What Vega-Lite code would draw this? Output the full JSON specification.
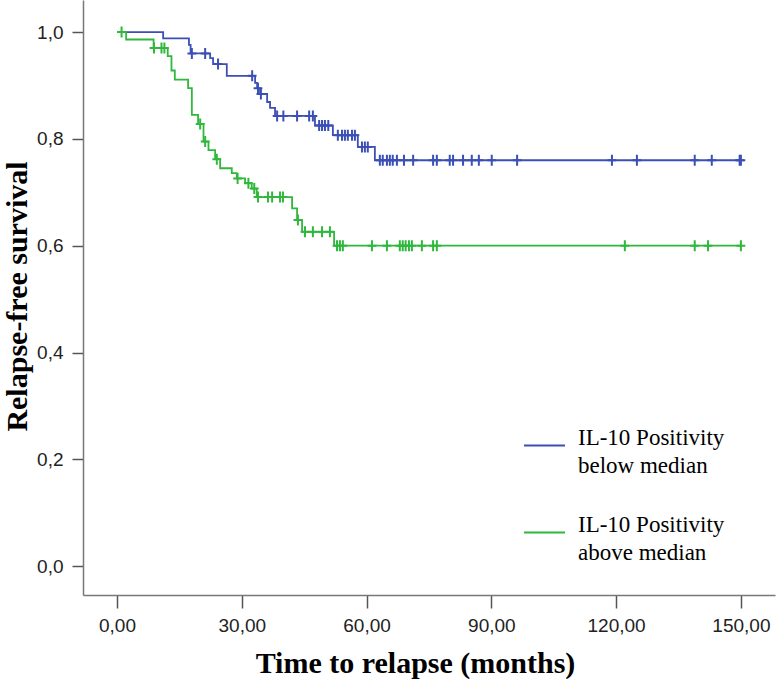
{
  "$schema": "https://vega.github.io/schema/vega-lite/v6.json",
  "width": 692,
  "height": 595,
  "autosize": {"type": "none"},
  "padding": {"left": 83, "top": 0, "right": 3, "bottom": 84},
  "background": "white",
  "config": {"view": {"stroke": null}},
  "data": {
    "values": [
      {"g": "below", "t": 0, "s": 1.0, "c": 0},
      {"g": "below", "t": 11.1, "s": 0.988, "c": 0},
      {"g": "below", "t": 17.3, "s": 0.976, "c": 0},
      {"g": "below", "t": 17.7, "s": 0.96, "c": 0},
      {"g": "below", "t": 18.0, "s": 0.96, "c": 1},
      {"g": "below", "t": 21.2, "s": 0.96, "c": 1},
      {"g": "below", "t": 22.4, "s": 0.951, "c": 0},
      {"g": "below", "t": 23.1, "s": 0.94, "c": 0},
      {"g": "below", "t": 24.3, "s": 0.94, "c": 1},
      {"g": "below", "t": 26.4, "s": 0.918, "c": 0},
      {"g": "below", "t": 32.5, "s": 0.918, "c": 1},
      {"g": "below", "t": 33.2, "s": 0.905, "c": 0},
      {"g": "below", "t": 33.7, "s": 0.895, "c": 0},
      {"g": "below", "t": 33.9, "s": 0.895, "c": 1},
      {"g": "below", "t": 34.4, "s": 0.884, "c": 0},
      {"g": "below", "t": 34.6, "s": 0.884, "c": 1},
      {"g": "below", "t": 36.1, "s": 0.869, "c": 0},
      {"g": "below", "t": 36.8, "s": 0.858, "c": 0},
      {"g": "below", "t": 38.0, "s": 0.843, "c": 0},
      {"g": "below", "t": 38.5, "s": 0.843, "c": 1},
      {"g": "below", "t": 40.0, "s": 0.843, "c": 1},
      {"g": "below", "t": 43.3, "s": 0.843, "c": 1},
      {"g": "below", "t": 46.2, "s": 0.843, "c": 1},
      {"g": "below", "t": 47.1, "s": 0.843, "c": 1},
      {"g": "below", "t": 47.6, "s": 0.825, "c": 0},
      {"g": "below", "t": 48.6, "s": 0.825, "c": 1},
      {"g": "below", "t": 49.3, "s": 0.825, "c": 1},
      {"g": "below", "t": 50.0, "s": 0.825, "c": 1},
      {"g": "below", "t": 50.8, "s": 0.825, "c": 1},
      {"g": "below", "t": 51.9, "s": 0.807, "c": 0},
      {"g": "below", "t": 53.1, "s": 0.807, "c": 1},
      {"g": "below", "t": 54.1, "s": 0.807, "c": 1},
      {"g": "below", "t": 54.8, "s": 0.807, "c": 1},
      {"g": "below", "t": 55.5, "s": 0.807, "c": 1},
      {"g": "below", "t": 56.5, "s": 0.807, "c": 1},
      {"g": "below", "t": 57.2, "s": 0.807, "c": 1},
      {"g": "below", "t": 57.9, "s": 0.785, "c": 0},
      {"g": "below", "t": 58.9, "s": 0.785, "c": 1},
      {"g": "below", "t": 59.6, "s": 0.785, "c": 1},
      {"g": "below", "t": 60.3, "s": 0.785, "c": 1},
      {"g": "below", "t": 62.0, "s": 0.76, "c": 0},
      {"g": "below", "t": 63.2, "s": 0.76, "c": 1},
      {"g": "below", "t": 63.9, "s": 0.76, "c": 1},
      {"g": "below", "t": 64.9, "s": 0.76, "c": 1},
      {"g": "below", "t": 65.6, "s": 0.76, "c": 1},
      {"g": "below", "t": 66.3, "s": 0.76, "c": 1},
      {"g": "below", "t": 67.3, "s": 0.76, "c": 1},
      {"g": "below", "t": 69.0, "s": 0.76, "c": 1},
      {"g": "below", "t": 71.2, "s": 0.76, "c": 1},
      {"g": "below", "t": 76.0, "s": 0.76, "c": 1},
      {"g": "below", "t": 76.9, "s": 0.76, "c": 1},
      {"g": "below", "t": 80.0, "s": 0.76, "c": 1},
      {"g": "below", "t": 80.8, "s": 0.76, "c": 1},
      {"g": "below", "t": 83.2, "s": 0.76, "c": 1},
      {"g": "below", "t": 85.3, "s": 0.76, "c": 1},
      {"g": "below", "t": 87.0, "s": 0.76, "c": 1},
      {"g": "below", "t": 90.1, "s": 0.76, "c": 1},
      {"g": "below", "t": 96.2, "s": 0.76, "c": 1},
      {"g": "below", "t": 119.0, "s": 0.76, "c": 1},
      {"g": "below", "t": 125.0, "s": 0.76, "c": 1},
      {"g": "below", "t": 138.9, "s": 0.76, "c": 1},
      {"g": "below", "t": 143.0, "s": 0.76, "c": 1},
      {"g": "below", "t": 149.7, "s": 0.76, "c": 1},
      {"g": "below", "t": 150.0, "s": 0.76, "c": 1},
      {"g": "above", "t": 0, "s": 1.0, "c": 0},
      {"g": "above", "t": 1.1, "s": 1.0, "c": 1},
      {"g": "above", "t": 2.2, "s": 0.986, "c": 0},
      {"g": "above", "t": 8.8, "s": 0.97, "c": 0},
      {"g": "above", "t": 8.9, "s": 0.97, "c": 1},
      {"g": "above", "t": 10.7, "s": 0.97, "c": 1},
      {"g": "above", "t": 11.4, "s": 0.97, "c": 1},
      {"g": "above", "t": 12.2, "s": 0.955, "c": 0},
      {"g": "above", "t": 13.1, "s": 0.928, "c": 0},
      {"g": "above", "t": 13.9, "s": 0.911, "c": 0},
      {"g": "above", "t": 17.1, "s": 0.895, "c": 0},
      {"g": "above", "t": 18.0, "s": 0.845, "c": 0},
      {"g": "above", "t": 19.5, "s": 0.828, "c": 0},
      {"g": "above", "t": 20.0, "s": 0.828, "c": 1},
      {"g": "above", "t": 20.8, "s": 0.795, "c": 0},
      {"g": "above", "t": 21.2, "s": 0.795, "c": 1},
      {"g": "above", "t": 22.0, "s": 0.779, "c": 0},
      {"g": "above", "t": 23.6, "s": 0.762, "c": 0},
      {"g": "above", "t": 24.0, "s": 0.762, "c": 1},
      {"g": "above", "t": 24.8, "s": 0.745, "c": 0},
      {"g": "above", "t": 27.6, "s": 0.736, "c": 0},
      {"g": "above", "t": 28.8, "s": 0.726, "c": 0},
      {"g": "above", "t": 29.0, "s": 0.726, "c": 1},
      {"g": "above", "t": 30.8, "s": 0.717, "c": 0},
      {"g": "above", "t": 31.6, "s": 0.717, "c": 1},
      {"g": "above", "t": 32.4, "s": 0.707, "c": 0},
      {"g": "above", "t": 33.0, "s": 0.707, "c": 1},
      {"g": "above", "t": 33.6, "s": 0.691, "c": 0},
      {"g": "above", "t": 33.9, "s": 0.691, "c": 1},
      {"g": "above", "t": 36.3, "s": 0.691, "c": 1},
      {"g": "above", "t": 37.3, "s": 0.691, "c": 1},
      {"g": "above", "t": 39.2, "s": 0.691, "c": 1},
      {"g": "above", "t": 39.9, "s": 0.691, "c": 1},
      {"g": "above", "t": 42.1, "s": 0.67, "c": 0},
      {"g": "above", "t": 43.3, "s": 0.648, "c": 0},
      {"g": "above", "t": 43.5, "s": 0.648, "c": 1},
      {"g": "above", "t": 44.5, "s": 0.626, "c": 0},
      {"g": "above", "t": 45.2, "s": 0.626, "c": 1},
      {"g": "above", "t": 47.1, "s": 0.626, "c": 1},
      {"g": "above", "t": 49.3, "s": 0.626, "c": 1},
      {"g": "above", "t": 51.2, "s": 0.626, "c": 1},
      {"g": "above", "t": 52.2, "s": 0.6, "c": 0},
      {"g": "above", "t": 52.9, "s": 0.6, "c": 1},
      {"g": "above", "t": 53.6, "s": 0.6, "c": 1},
      {"g": "above", "t": 54.3, "s": 0.6, "c": 1},
      {"g": "above", "t": 61.3, "s": 0.6, "c": 1},
      {"g": "above", "t": 64.9, "s": 0.6, "c": 1},
      {"g": "above", "t": 68.0, "s": 0.6, "c": 1},
      {"g": "above", "t": 68.7, "s": 0.6, "c": 1},
      {"g": "above", "t": 69.4, "s": 0.6, "c": 1},
      {"g": "above", "t": 70.2, "s": 0.6, "c": 1},
      {"g": "above", "t": 70.9, "s": 0.6, "c": 1},
      {"g": "above", "t": 73.3, "s": 0.6, "c": 1},
      {"g": "above", "t": 76.0, "s": 0.6, "c": 1},
      {"g": "above", "t": 76.9, "s": 0.6, "c": 1},
      {"g": "above", "t": 122.1, "s": 0.6, "c": 1},
      {"g": "above", "t": 138.9, "s": 0.6, "c": 1},
      {"g": "above", "t": 142.1, "s": 0.6, "c": 1},
      {"g": "above", "t": 150.0, "s": 0.6, "c": 1}
    ]
  },
  "encoding": {
    "x": {
      "field": "t",
      "type": "quantitative",
      "scale": {"domain": [-8.17, 158.2], "nice": false, "zero": false},
      "axis": {
        "values": [0, 30, 60, 90, 120, 150],
        "labelExpr": "replace(format(datum.value, '.2f'), '.', ',')",
        "labelFont": "Liberation Sans",
        "labelFontSize": 19,
        "labelColor": "#222222",
        "labelPadding": 8,
        "tickSize": 13,
        "tickColor": "#555555",
        "tickWidth": 1.5,
        "domainColor": "#777777",
        "domainWidth": 1.5,
        "grid": false,
        "title": "Time to relapse (months)",
        "titleFont": "Liberation Serif",
        "titleFontSize": 30,
        "titleFontWeight": "bold",
        "titleColor": "#000000",
        "titleX": 332,
        "titleY": 77,
        "titleBaseline": "alphabetic",
        "titleAlign": "center"
      }
    },
    "y": {
      "field": "s",
      "type": "quantitative",
      "scale": {"domain": [-0.054, 1.06], "nice": false, "zero": false},
      "axis": {
        "values": [0, 0.2, 0.4, 0.6, 0.8, 1.0],
        "labelExpr": "replace(format(datum.value, '.1f'), '.', ',')",
        "labelFont": "Liberation Sans",
        "labelFontSize": 19,
        "labelColor": "#222222",
        "labelPadding": 9,
        "tickSize": 11,
        "tickColor": "#555555",
        "tickWidth": 1.5,
        "domainColor": "#777777",
        "domainWidth": 1.5,
        "grid": false,
        "title": "Relapse-free survival",
        "titleFont": "Liberation Serif",
        "titleFontSize": 30,
        "titleFontWeight": "bold",
        "titleColor": "#000000",
        "titleAngle": 270,
        "titleX": -57,
        "titleY": 296,
        "titleBaseline": "alphabetic",
        "titleAlign": "center"
      }
    },
    "color": {
      "field": "g",
      "type": "nominal",
      "scale": {"domain": ["below", "above"], "range": ["#3b4fb5", "#2fb83c"]}
    }
  },
  "layer": [
    {
      "mark": {"type": "line", "interpolate": "step-after", "strokeWidth": 1.8},
      "encoding": {
        "color": {
          "field": "g",
          "type": "nominal",
          "scale": {"domain": ["below", "above"], "range": ["#3b4fb5", "#2fb83c"]},
          "legend": {
            "orient": "none",
            "legendX": 440,
            "legendY": 424,
            "title": null,
            "padding": 0,
            "symbolType": "stroke",
            "symbolSize": 1681,
            "symbolStrokeWidth": 2,
            "labelExpr": "['IL-10 Positivity', datum.label + ' median']",
            "labelFont": "Liberation Serif",
            "labelFontSize": 23,
            "labelColor": "#000000",
            "labelOffset": 12,
            "labelBaseline": "alphabetic",
            "labelLimit": 300,
            "rowPadding": 33,
            "encode": {"labels": {"update": {"lineHeight": {"value": 28}, "dy": {"value": -1}}}}
          }
        }
      }
    },
    {
      "transform": [{"filter": "datum.c == 1"}],
      "mark": {
        "type": "point",
        "shape": "M0,-1V1M-0.8,0H0.8",
        "filled": false,
        "strokeWidth": 2,
        "size": 121,
        "opacity": 1
      },
      "encoding": {
        "color": {
          "field": "g",
          "type": "nominal",
          "scale": {"domain": ["below", "above"], "range": ["#3b4fb5", "#2fb83c"]},
          "legend": null
        }
      }
    }
  ]
}
